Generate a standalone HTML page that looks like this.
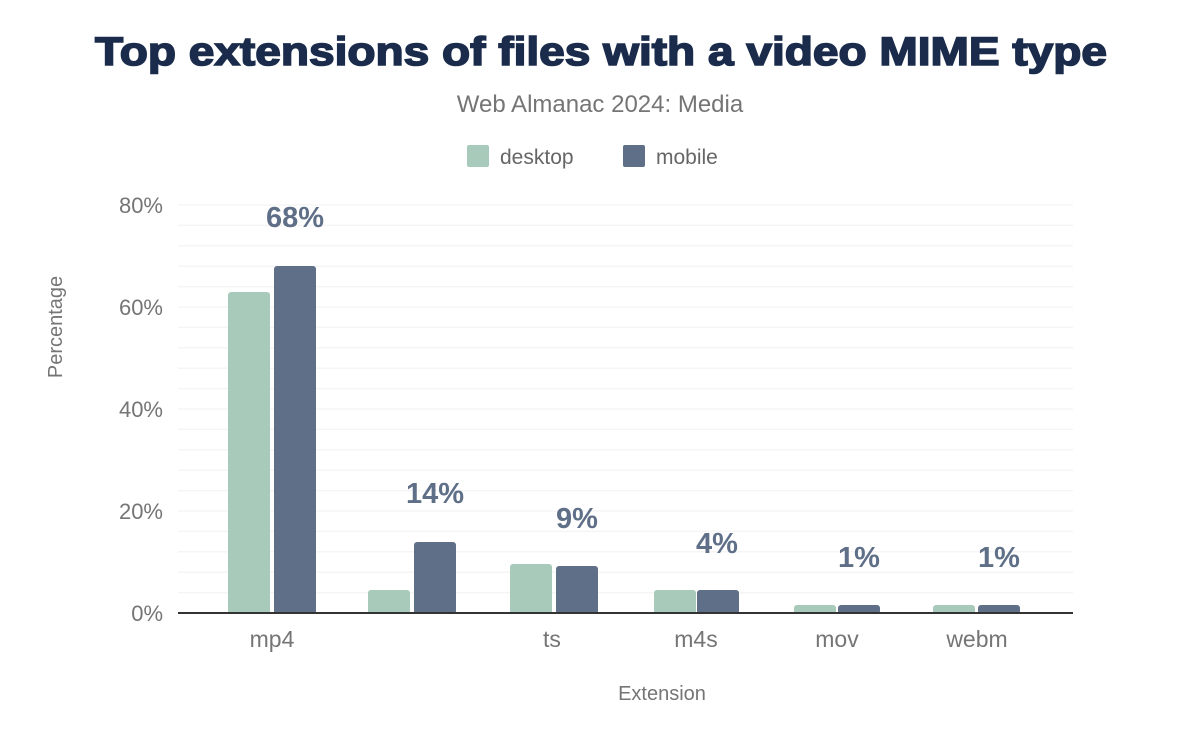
<!DOCTYPE html>
<html><head><style>body{margin:0;background:#fff}</style></head><body>
<svg width="1200" height="742" xmlns="http://www.w3.org/2000/svg" font-family="Liberation Sans, sans-serif">
<rect width="1200" height="742" fill="#fff"/>
<text x="601" y="65" text-anchor="middle" font-size="40" font-weight="bold" fill="#1a2b4b" stroke="#1a2b4b" stroke-width="1.6" textLength="1012" lengthAdjust="spacingAndGlyphs">Top extensions of files with a video MIME type</text>
<text x="600" y="112" text-anchor="middle" font-size="24" fill="#757575">Web Almanac 2024: Media</text>
<rect x="467" y="145" width="22" height="22" rx="2" fill="#a8cabb"/>
<text x="500" y="164" font-size="21" fill="#666">desktop</text>
<rect x="623" y="145" width="22" height="22" rx="2" fill="#5f6f88"/>
<text x="656" y="164" font-size="21" fill="#666">mobile</text>
<g stroke="#f5f5f5" stroke-width="1.5">
<line x1="178" x2="1073" y1="205" y2="205"/><line x1="178" x2="1073" y1="225.4" y2="225.4"/><line x1="178" x2="1073" y1="245.8" y2="245.8"/><line x1="178" x2="1073" y1="266.2" y2="266.2"/><line x1="178" x2="1073" y1="286.6" y2="286.6"/>
<line x1="178" x2="1073" y1="307" y2="307"/><line x1="178" x2="1073" y1="327.4" y2="327.4"/><line x1="178" x2="1073" y1="347.8" y2="347.8"/><line x1="178" x2="1073" y1="368.2" y2="368.2"/><line x1="178" x2="1073" y1="388.6" y2="388.6"/>
<line x1="178" x2="1073" y1="409" y2="409"/><line x1="178" x2="1073" y1="429.4" y2="429.4"/><line x1="178" x2="1073" y1="449.8" y2="449.8"/><line x1="178" x2="1073" y1="470.2" y2="470.2"/><line x1="178" x2="1073" y1="490.6" y2="490.6"/>
<line x1="178" x2="1073" y1="511" y2="511"/><line x1="178" x2="1073" y1="531.4" y2="531.4"/><line x1="178" x2="1073" y1="551.8" y2="551.8"/><line x1="178" x2="1073" y1="572.2" y2="572.2"/><line x1="178" x2="1073" y1="592.6" y2="592.6"/>
</g>
<g font-size="22" fill="#757575" text-anchor="end">
<text x="163" y="213">80%</text><text x="163" y="315">60%</text><text x="163" y="417">40%</text><text x="163" y="519">20%</text><text x="163" y="621">0%</text>
</g>
<text transform="translate(62,327) rotate(-90)" text-anchor="middle" font-size="20" fill="#757575">Percentage</text>
<g fill="#a8cabb">
<rect x="228" y="292" width="42" height="322" rx="3"/>
<rect x="368" y="590" width="42" height="24" rx="3"/>
<rect x="510" y="564" width="42" height="50" rx="3"/>
<rect x="654" y="590" width="42" height="24" rx="3"/>
<rect x="794" y="605" width="42" height="9" rx="3"/>
<rect x="933" y="605" width="42" height="9" rx="3"/>
</g>
<g fill="#5f6f88">
<rect x="274" y="266" width="42" height="348" rx="3"/>
<rect x="414" y="542" width="42" height="72" rx="3"/>
<rect x="556" y="566" width="42" height="48" rx="3"/>
<rect x="697" y="590" width="42" height="24" rx="3"/>
<rect x="838" y="605" width="42" height="9" rx="3"/>
<rect x="978" y="605" width="42" height="9" rx="3"/>
</g>
<line x1="178" x2="1073" y1="613" y2="613" stroke="#333" stroke-width="2"/>
<g font-size="29" font-weight="bold" fill="#5f6f88" text-anchor="middle">
<text x="295" y="227">68%</text><text x="435" y="503">14%</text><text x="577" y="528">9%</text><text x="717" y="553">4%</text><text x="859" y="567">1%</text><text x="999" y="567">1%</text>
</g>
<g font-size="23" fill="#757575" text-anchor="middle">
<text x="272" y="647">mp4</text><text x="552" y="647">ts</text><text x="696" y="647">m4s</text><text x="837" y="647">mov</text><text x="977" y="647">webm</text>
</g>
<text x="662" y="700" text-anchor="middle" font-size="20" fill="#757575">Extension</text>
</svg>
</body></html>
